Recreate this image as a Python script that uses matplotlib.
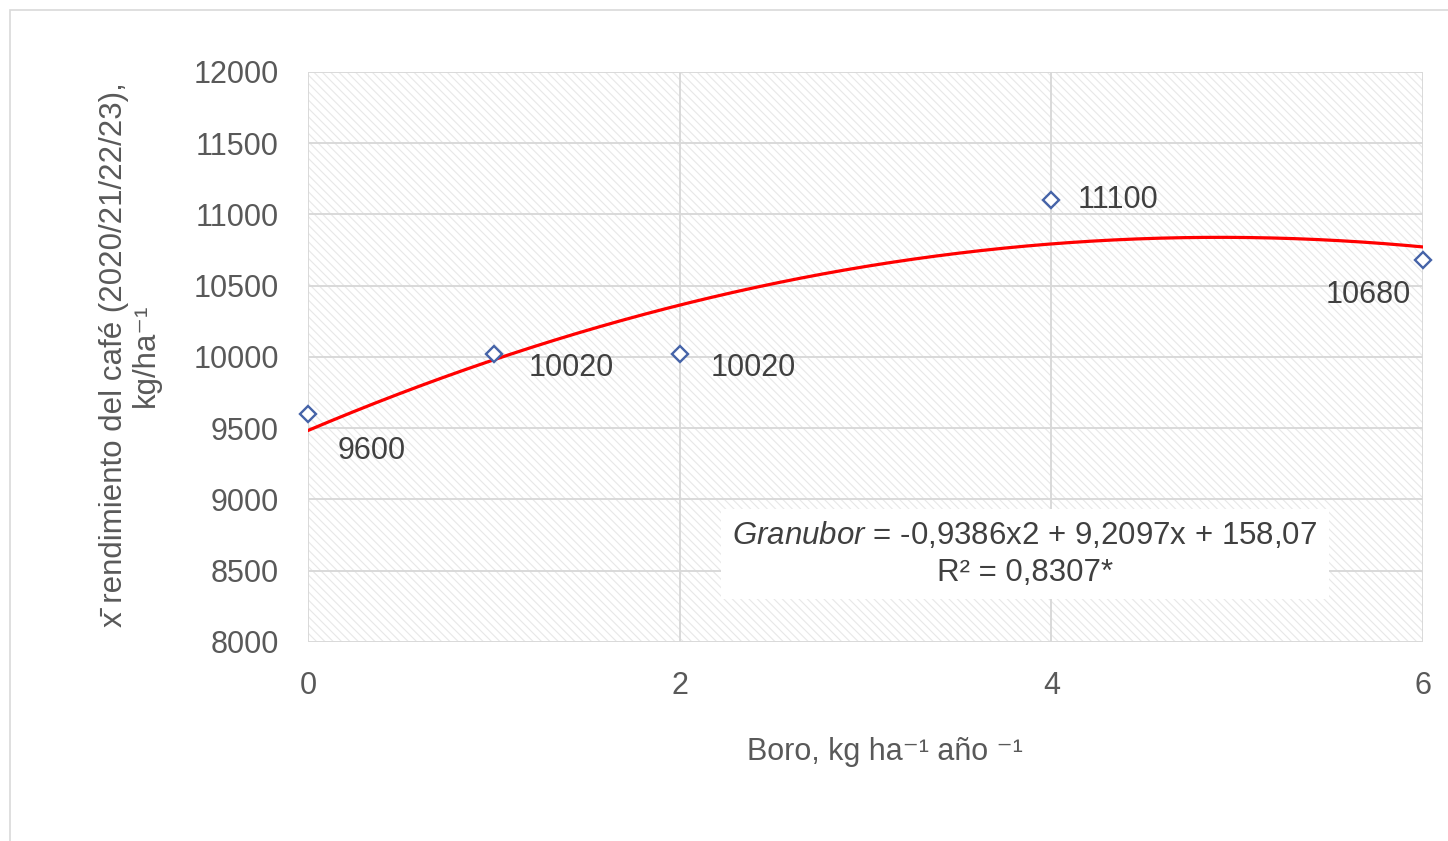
import matplotlib
matplotlib.use("Agg")
import matplotlib.pyplot as plt
import numpy as np
from matplotlib.patches import Rectangle

plt.rcParams['font.family'] = ['Liberation Sans', 'DejaVu Sans']
plt.rcParams['mathtext.fontset'] = 'custom'
plt.rcParams['mathtext.rm'] = 'Liberation Sans'
plt.rcParams['mathtext.it'] = 'Liberation Sans:italic'
plt.rcParams['hatch.linewidth'] = 0.8

# Boron dose (kg/ha/yr) and mean coffee yield (kg/ha)
boro = [0, 1, 2, 4, 6]
rendimiento = [9600, 10020, 10020, 11100, 10680]
point_labels = ["9600", "10020", "10020", "11100", "10680"]

# Quadratic trend, coefficients in 60 kg sacks per ha
coef = [-0.9386, 9.2097, 158.07]
saco_kg = 60
r2_text = "0,8307*"

y_ticks = list(range(8000, 12001, 500))
x_ticks = [0, 2, 4, 6]

W, H = 1448, 841
fig = plt.figure(figsize=(W / 100, H / 100), dpi=100)
fig.patch.set_facecolor('white')

# chart area border
fig.add_artist(Rectangle((10 / W, 0 - 0.01), 1.1, 1 - 10 / H + 0.01,
                         transform=fig.transFigure, fill=False,
                         edgecolor='#d9d9d9', linewidth=1.2))

ax = fig.add_axes([308 / W, 1 - 642 / H, (1423 - 308) / W, (642 - 72) / H])
ax.set_xlim(0, 6)
ax.set_ylim(8000, 12000)

# patterned plot area
ax.add_patch(Rectangle((0, 0), 1, 1, transform=ax.transAxes,
                       facecolor='none', edgecolor='#e8e8e8', linewidth=0,
                       hatch='\\\\\\\\', zorder=0))

grid_c = '#d9d9d9'
for yv in y_ticks:
    ax.axhline(yv, color=grid_c, linewidth=1.4, zorder=1)
for xv in x_ticks:
    ax.axvline(xv, color=grid_c, linewidth=1.4, zorder=1)
for s in ax.spines.values():
    s.set_visible(False)

ax.set_xticks(x_ticks)
ax.set_yticks(y_ticks)
ax.tick_params(length=0, labelsize=22, labelcolor='#595959')
ax.tick_params(axis='y', pad=21)
ax.tick_params(axis='x', pad=21)

# trend curve
xs = np.linspace(0, 6, 200)
ys = np.polyval(coef, xs) * saco_kg
ax.plot(xs, ys, color='#ff0000', linewidth=2.3, zorder=3)

# observed points
ax.plot(boro, rendimiento, linestyle='none', marker='D', markersize=8.5,
        markerfacecolor='white', markeredgecolor='#4563a8',
        markeredgewidth=1.7, zorder=4, clip_on=False)

offsets = [(21, -27, 'left'), (25, -10, 'left'), (22, -10, 'left'),
           (19, 0, 'left'), (-9, -25, 'right')]
for xv, yv, lab, (dx, dy, ha) in zip(boro, rendimiento, point_labels, offsets):
    ax.annotate(lab, (xv, yv), xytext=(dx, dy), textcoords='offset points',
                ha=ha, va='center', fontsize=22, color='#404040', zorder=5)

eq = (r"$\it{Granubor}$" + " = {:.4f}x2 + {:.4f}x + {:.2f}".format(*coef).replace('.', ',')
      + "\nR² = " + r2_text)
ax.text(1025 / W, 1 - 554 / H, eq, transform=fig.transFigure,
        ha='center', va='center',
        multialignment='center', fontsize=22.5, color='#404040', linespacing=1.3,
        bbox=dict(boxstyle='square,pad=0.35', facecolor='white', edgecolor='none'),
        zorder=6)

# axis titles
fig.text(130 / W, 1 - 355 / H,
         "x\u0304 rendimiento del café (2020/21/22/23),\nkg/ha\u207b\u00b9",
         rotation=90, ha='center', va='center', multialignment='center',
         fontsize=22.5, color='#595959', linespacing=1.1)
fig.text(885 / W, 1 - 752 / H, "Boro, kg ha\u207b\u00b9 año \u207b\u00b9",
         ha='center', va='center', fontsize=22, color='#595959')

fig.savefig('out.png', dpi=100)
